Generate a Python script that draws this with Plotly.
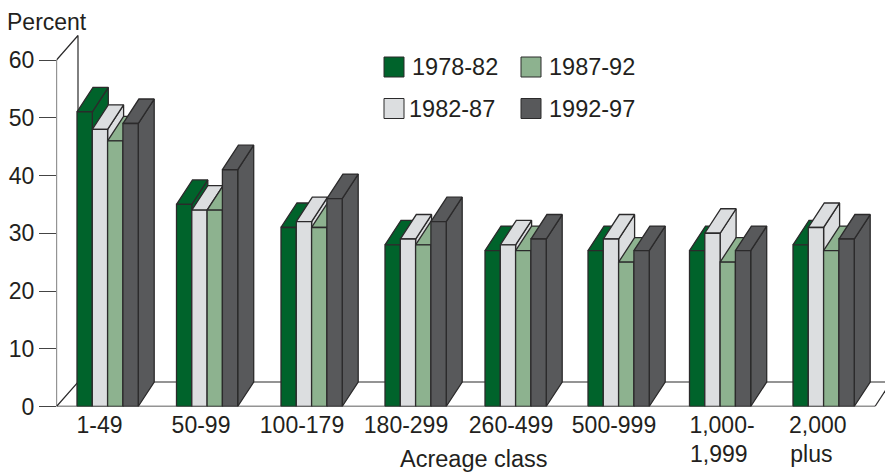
import plotly.graph_objects as go

# ---- data ----
categories = ["1-49", "50-99", "100-179", "180-299", "260-499", "500-999",
              "1,000-<br>1,999&nbsp;", "2,000&nbsp;<br>plus&nbsp;&nbsp;&nbsp;"]
series_names = ["1978-82", "1982-87", "1987-92", "1992-97"]
v1978_82 = [51, 35, 31, 28, 27, 27, 27, 28]
v1982_87 = [48, 34, 32, 29, 28, 29, 30, 31]
v1987_92 = [46, 34, 31, 28, 27, 25, 25, 27]
v1992_97 = [49, 41, 36, 32, 29, 27, 27, 29]
y_ticks = [0, 10, 20, 30, 40, 50, 60]

# ---- layout constants (pixels of the 885x473 page) ----
W, H = 885, 473
X_AXIS = 56.5
FLOOR_END = 875
Y0_PX, Y60_PX = 406.5, 60.0
UNIT = (Y0_PX - Y60_PX) / 60
group_left = [77, 176.5, 281, 385, 485, 588, 689.5, 793]
label_centre = [99.5, 201, 302, 406, 511, 614, 722, 821]
BAR_W = 15.3
DEPTH_X, DEPTH_Y = 16, 24.5 / UNIT
WALL_X, WALL_Y = 21.5, 24.5 / UNIT
colors = ["#00632b", "#dcdee0", "#8db28f", "#58595b"]
EDGE = "#2b2a2b"
TEXT = "#231f20"
FONT = "Liberation Sans, Arial, sans-serif"


def ypx(p):
    return (Y0_PX - p) / UNIT


fig = go.Figure()


def line(xs, ys, color=EDGE, width=1.2):
    fig.add_trace(go.Scatter(x=xs, y=ys, mode="lines", showlegend=False, hoverinfo="skip",
                             line=dict(color=color, width=width)))


def poly(xs, ys, color, name):
    fig.add_trace(go.Scatter(x=xs + xs[:1], y=ys + ys[:1], mode="lines", fill="toself",
                             fillcolor=color, line=dict(color=EDGE, width=1.3),
                             showlegend=False, name=name, hoverinfo="name"))


# walls and floor
line([X_AXIS, X_AXIS], [0, 60])
line([X_AXIS, X_AXIS + WALL_X, X_AXIS + WALL_X], [60, 60 + WALL_Y, WALL_Y])
line([X_AXIS, X_AXIS + WALL_X, W], [0, WALL_Y, WALL_Y])
line([X_AXIS, FLOOR_END], [0, 0], width=1.4)
line([FLOOR_END, FLOOR_END + DEPTH_X], [0, DEPTH_Y])

# bars, painted left to right
all_series = [v1978_82, v1982_87, v1987_92, v1992_97]
for g, left in enumerate(group_left):
    for s, values in enumerate(all_series):
        v = values[g]
        x0 = left + s * BAR_W
        x1 = x0 + BAR_W
        c = colors[s]
        poly([x1, x1 + DEPTH_X, x1 + DEPTH_X, x1], [0, DEPTH_Y, v + DEPTH_Y, v], c, series_names[s])
        poly([x0, x1, x1 + DEPTH_X, x0 + DEPTH_X], [v, v, v + DEPTH_Y, v + DEPTH_Y], c, series_names[s])
        poly([x0, x1, x1, x0], [0, 0, v, v], c, series_names[s])

# hand-placed key
key_x = [394, 394, 531, 531]
key_y = [67, 108.5, 67, 108.5]
key_text_x = [412, 409, 549, 549]
for s, name in enumerate(series_names):
    fig.add_trace(go.Scatter(x=[key_x[s]], y=[ypx(key_y[s])], mode="markers", showlegend=False,
                             hoverinfo="skip",
                             marker=dict(symbol="square", size=20, color=colors[s],
                                         line=dict(color=EDGE, width=1))))
    fig.add_annotation(x=key_text_x[s], y=ypx(key_y[s]), text=name, showarrow=False,
                       xanchor="left", yanchor="middle", xshift=-2, font=dict(size=23.5))

fig.add_annotation(xref="paper", yref="paper", x=5 / W, y=1 - 22 / H, text="Percent", showarrow=False,
                   xanchor="left", yanchor="middle", font=dict(size=23))
fig.add_annotation(xref="paper", yref="paper", x=474 / W, y=0, text="Acreage class",
                   showarrow=False, xanchor="center", yanchor="bottom", borderpad=0,
                   font=dict(size=23.5))

fig.update_layout(
    width=W, height=H, margin=dict(l=0, r=0, t=0, b=0), autosize=False,
    paper_bgcolor="white", plot_bgcolor="white", showlegend=False,
    font=dict(family=FONT, size=23, color=TEXT),
    xaxis=dict(domain=[X_AXIS / W, 1], range=[X_AXIS, W], tickmode="array",
               tickvals=label_centre, ticktext=categories, ticks="", showgrid=False,
               zeroline=False, showline=False, ticklabelstandoff=2, automargin=False),
    yaxis=dict(domain=[(H - Y0_PX) / H, 1], range=[0, Y0_PX / UNIT], tickmode="array",
               tickvals=y_ticks, ticks="outside", ticklen=16.5, tickwidth=1.3, tickcolor="#444",
               showgrid=False, zeroline=False, showline=False, automargin=False),
)
fig.write_html("out.html", config={"displayModeBar": False},
               post_script="document.body.style.margin='0';document.body.style.overflow='hidden';")
